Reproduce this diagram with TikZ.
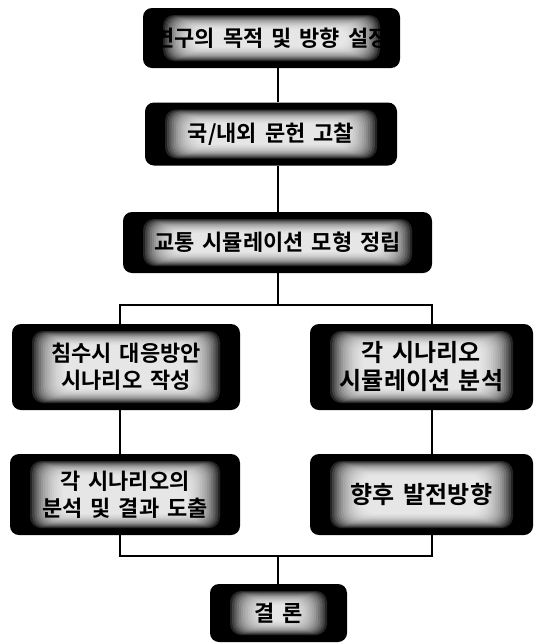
\documentclass[tikz,border=0pt]{standalone}
\usepackage{fontspec}
\usetikzlibrary{calc}
\newfontfamily\kr{Noto Sans CJK KR}[BoldFont={Noto Sans CJK KR Bold},WordSpace=1.6]
\tikzset{
  glowbox/.style={fill=black, rounded corners=9pt, inner sep=0pt, align=center,
    font=\kr\bfseries\fontsize{22}{27}\selectfont, text=black,
    path picture={
      \foreach \k in {0,...,15}{
        \fill[white, fill opacity=0.14, rounded corners=11pt]
          ($(path picture bounding box.south west)+(20pt+2.2pt*\k,7pt+0.95pt*\k)$) rectangle
          ($(path picture bounding box.north east)+(-20pt-2.2pt*\k,-7pt-0.95pt*\k)$);
      }
    }},
  bigtext/.style={font=\kr\bfseries\fontsize{24}{28}\selectfont},
  link/.style={draw=black, line width=2.4pt}
}
\begin{document}
\begin{tikzpicture}[x=1pt,y=-1pt]
\useasboundingbox (0,0) rectangle (534,643);
\node[glowbox, minimum width=257pt, minimum height=60pt] (b1) at (271.5,38) {연구의 목적 및 방향 설정};
\node[glowbox, minimum width=252pt, minimum height=63pt] (b2) at (271,134) {국/내외 문헌 고찰};
\node[glowbox, minimum width=309pt, minimum height=61pt] (b3) at (277.5,242.5) {교통 시뮬레이션 모형 정립};
\node[glowbox, minimum width=228pt, minimum height=86pt] (b4) at (126,367) {침수시 대응방안\\시나리오 작성};
\node[glowbox, bigtext, minimum width=223pt, minimum height=86pt] (b5) at (421.5,367) {각 시나리오\\시뮬레이션 분석};
\node[glowbox, minimum width=230pt, minimum height=81pt] (b6) at (125,494.5) {각 시나리오의\\분석 및 결과 도출};
\node[glowbox, bigtext, minimum width=223pt, minimum height=81pt] (b7) at (421.5,494.5) {향후 발전방향};
\node[glowbox, minimum width=137pt, minimum height=58pt] (b8) at (278.5,613) {결 론};
\coordinate (t) at (278,0);
\coordinate (lx) at (120,0);
\coordinate (rx) at (432,0);
\coordinate (j1) at (278,305);
\coordinate (j2) at (278,556);
\draw[link] (b1.south -| t) -- (b2.north -| t);
\draw[link] (b2.south -| t) -- (b3.north -| t);
\draw[link] (b3.south -| t) -- (j1);
\draw[link] (b4.north -| lx) |- (j1) -| (b5.north -| rx);
\draw[link] (b4.south -| lx) -- (b6.north -| lx);
\draw[link] (b5.south -| rx) -- (b7.north -| rx);
\draw[link] (b6.south -| lx) |- (j2) -| (b7.south -| rx);
\draw[link] (j2) -- (b8.north -| t);
\end{tikzpicture}
\end{document}
